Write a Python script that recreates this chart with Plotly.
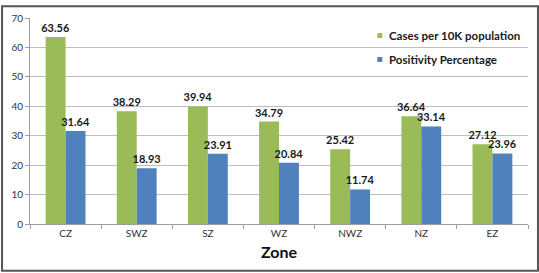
import plotly.graph_objects as go

zones = ["CZ", "SWZ", "SZ", "WZ", "NWZ", "NZ", "EZ"]
cases = [63.56, 38.29, 39.94, 34.79, 25.42, 36.64, 27.12]
positivity = [31.64, 18.93, 23.91, 20.84, 11.74, 33.14, 23.96]
series_names = ["Cases per 10K population", "Positivity Percentage"]
colors = ["#9BBB59", "#4F81BD"]

FONT = "Lato, Open Sans, sans-serif"

W, H = 539, 273
ml, mr, mt, mb = 29, 11, 13, 49
pw, ph = W - ml - mr, H - mt - mb


def px_x(p):
    return (p - ml) / pw


def px_y(p):
    return (H - mb - p) / ph


fig = go.Figure()
for vals, name, col in zip([cases, positivity], series_names, colors):
    fig.add_trace(go.Bar(
        x=zones, y=vals, name=name, showlegend=False,
        marker=dict(color=col, line=dict(width=0)),
        text=[f"{v:.2f}" for v in vals], textposition="outside",
        constraintext="none",
        textfont=dict(family=FONT, size=11, color="#1a1a1a", weight="bold"),
        cliponaxis=False, hoverinfo="skip",
    ))

# manual legend (small square + bold label)
shapes = [dict(
    type="rect", xref="paper", yref="paper",
    x0=-(ml - 1) / pw, x1=1 + (mr - 1) / pw,
    y0=-(mb - 1) / ph, y1=1 + (mt - 1) / ph,
    line=dict(color="#555555", width=2), fillcolor="rgba(0,0,0,0)",
    layer="above",
)]
annotations = []
for i, (name, col) in enumerate(zip(series_names, colors)):
    cy = 31 + 24.5 * i
    shapes.append(dict(
        type="rect", xref="paper", yref="paper",
        x0=px_x(377), x1=px_x(382), y0=px_y(cy + 2.5), y1=px_y(cy - 2.5),
        line=dict(width=0), fillcolor=col,
    ))
    annotations.append(dict(
        text=f"<b>{name}</b>", xref="paper", yref="paper",
        x=px_x(387), y=px_y(cy), xanchor="left", yanchor="middle",
        showarrow=False, font=dict(family=FONT, size=11.5, color="#1a1a1a"),
    ))

fig.update_layout(
    width=W, height=H,
    margin=dict(l=ml, r=mr, t=mt, b=mb, pad=0),
    paper_bgcolor="white", plot_bgcolor="white",
    barmode="group", bargap=0.44, bargroupgap=0,
    font=dict(family=FONT, size=10, color="#333"),
    showlegend=False,
    shapes=shapes, annotations=annotations,
)
fig.update_yaxes(
    range=[0, 70], dtick=10, showgrid=True, gridcolor="#BDBDBD", gridwidth=1,
    showline=True, linecolor="#9E9E9E", linewidth=1,
    ticks="outside", ticklen=4, tickcolor="#9E9E9E",
    tickfont=dict(family=FONT, size=10, color="#333"),
    zeroline=False,
)
fig.update_xaxes(
    showline=True, linecolor="#9E9E9E", linewidth=1,
    ticks="outside", ticklen=4, tickcolor="#9E9E9E", tickson="boundaries",
    tickfont=dict(family=FONT, size=10, color="#333"),
    title=dict(text="<b>Zone</b>", font=dict(family=FONT, size=16, color="#111"), standoff=8),
)

fig.write_html("out.html", config={"displayModeBar": False},
               post_script="document.body.style.margin='0';")
